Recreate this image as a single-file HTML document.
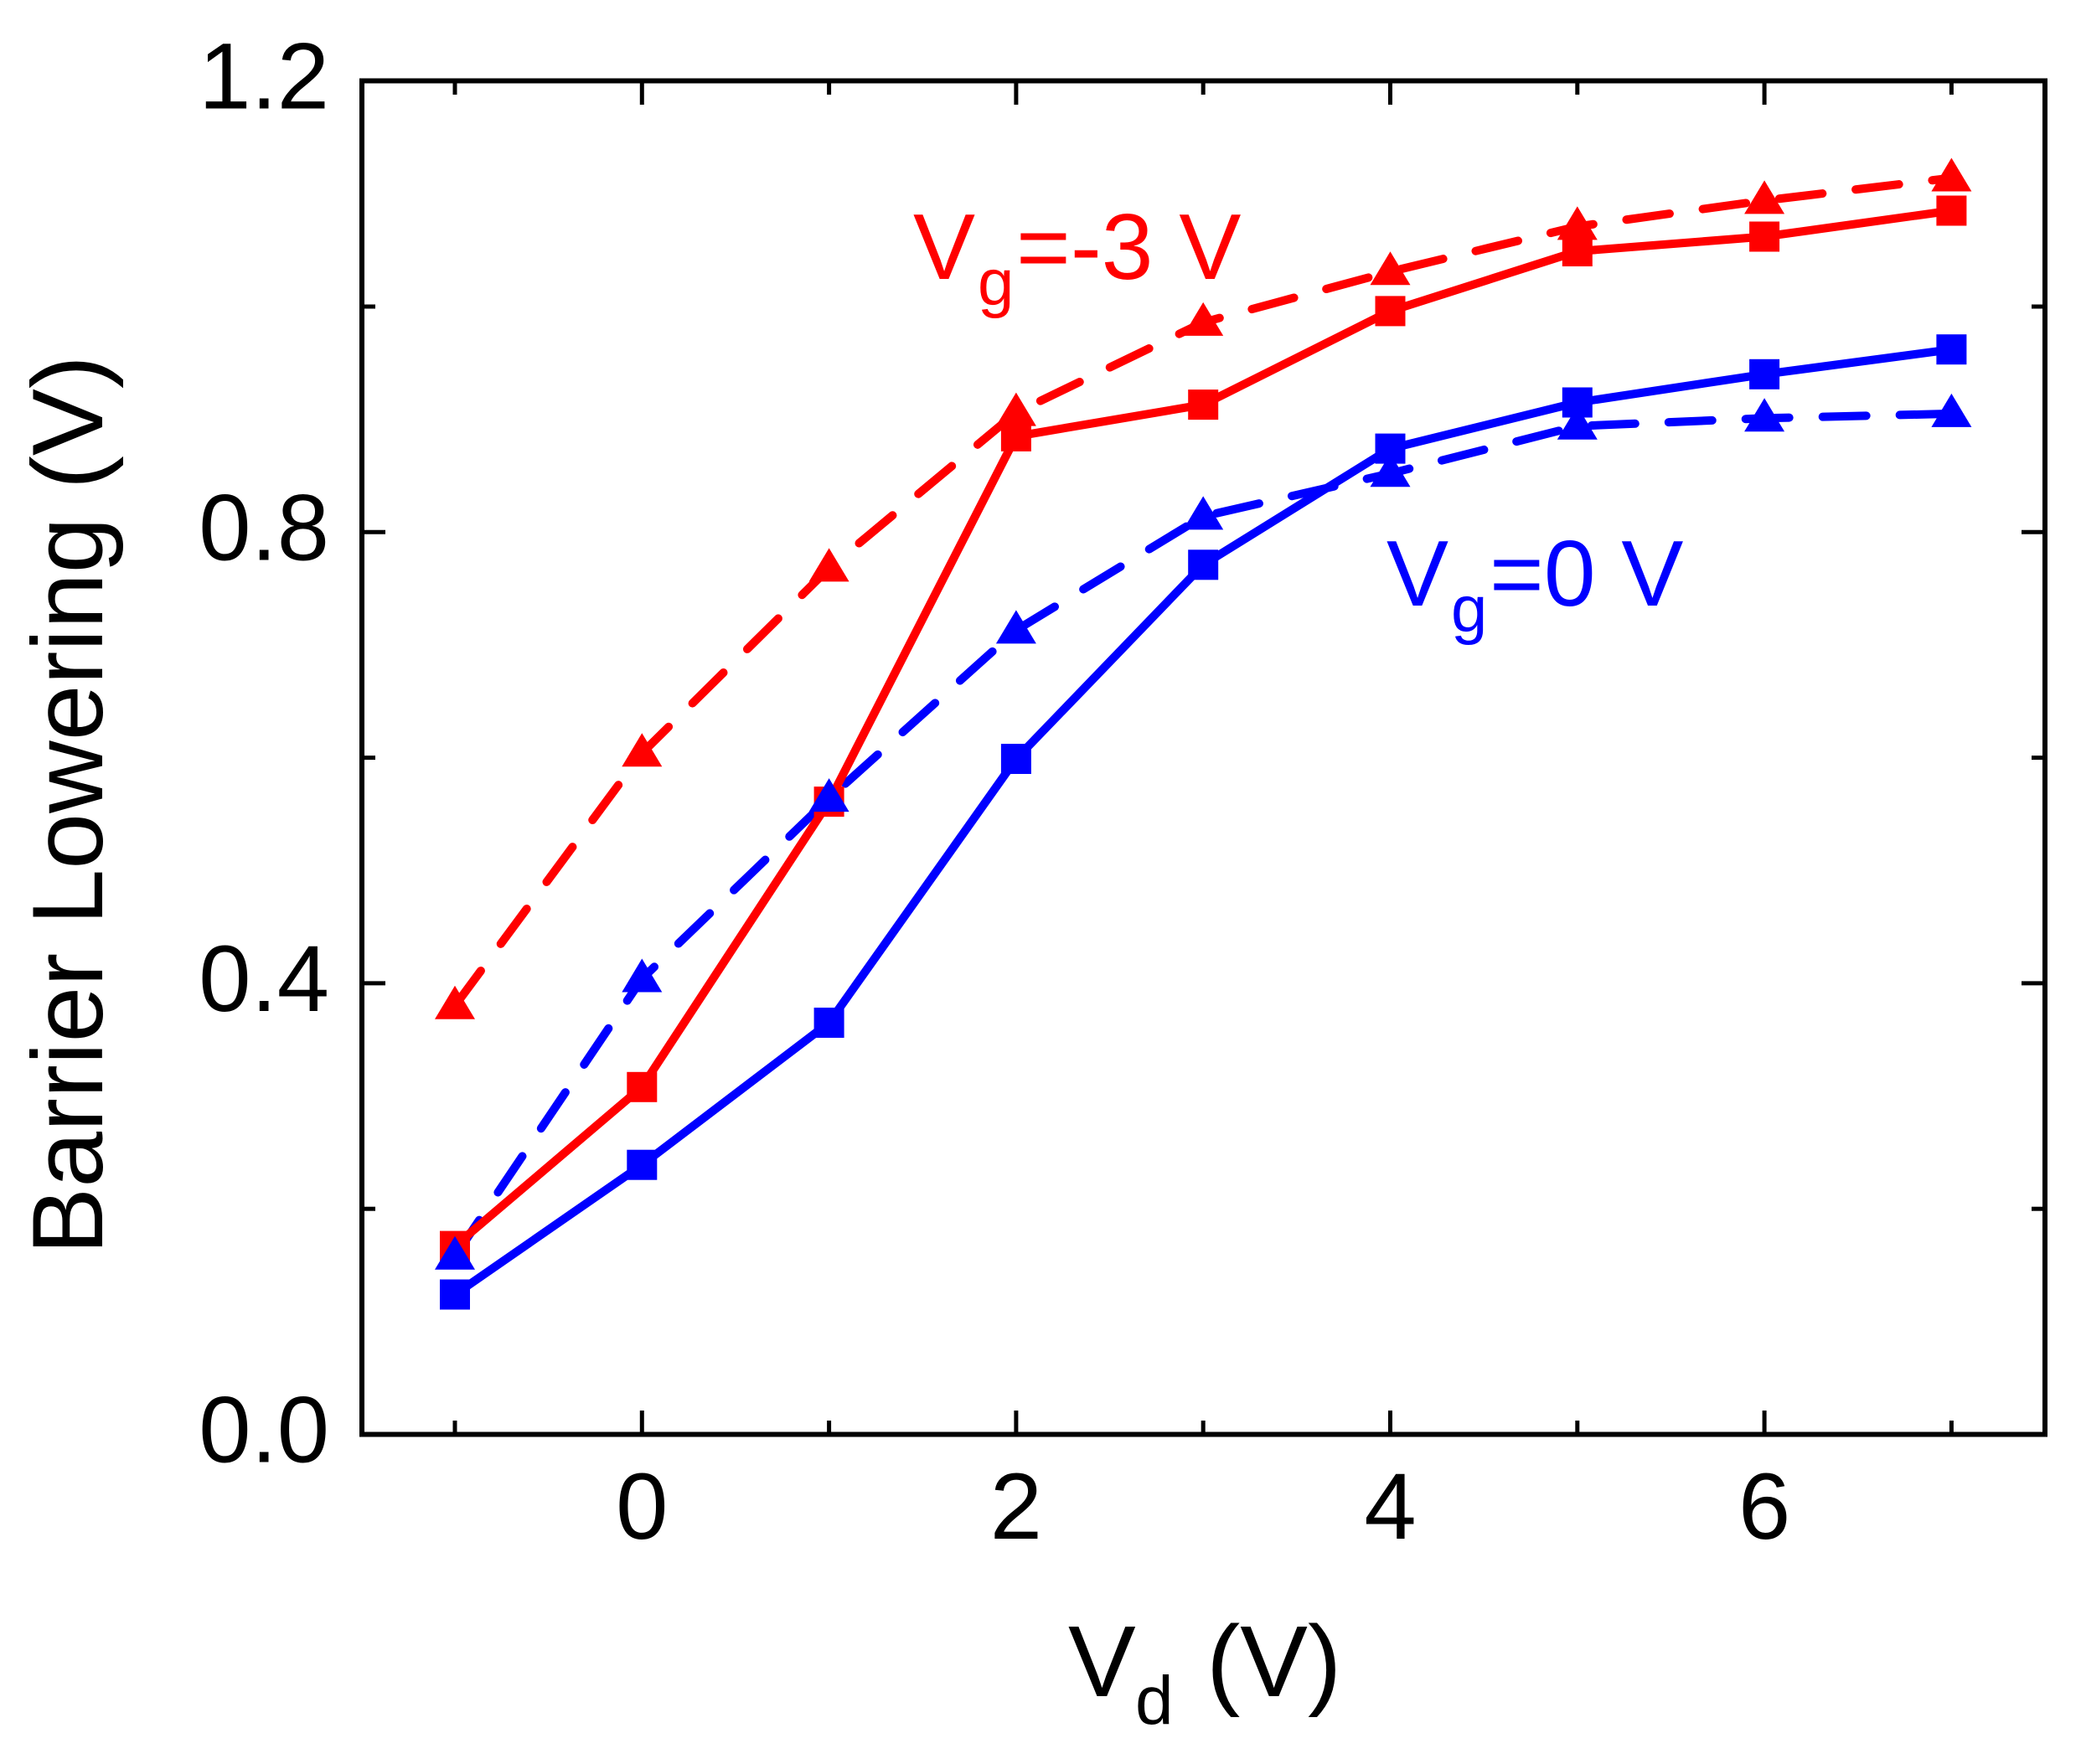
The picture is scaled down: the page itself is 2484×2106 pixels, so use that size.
<!DOCTYPE html>
<html><head><meta charset="utf-8"><style>html,body{margin:0;padding:0;background:#fff}</style></head>
<body>
<svg xmlns="http://www.w3.org/2000/svg" width="2484" height="2101" viewBox="0 0 2484 2101" font-family="Liberation Sans, sans-serif">
<defs>
<rect id="sq" x="-18" y="-18" width="36" height="36"/>
<polygon id="tr" points="-24,16 24,16 0,-24"/>
</defs>
<rect width="2484" height="2101" fill="#fff"/>
<g fill="none" stroke-width="10" stroke-linecap="round" stroke-linejoin="round">
<polyline stroke="#f00" stroke-dasharray="52 40" points="543,1200.8 766.3,899.2 989.6,678.4 1212.9,492.6 1436.2,384.9 1659.5,324.3 1882.8,270.4 2106.1,239.4 2329.4,212.5"/>
<polyline stroke="#00f" stroke-dasharray="52 40" points="543,1499.8 766.3,1168.5 989.6,953.1 1212.9,752.4 1436.2,616.4 1659.5,565.3 1882.8,508.7 2106.1,499.3 2329.4,493.9"/>
<polyline stroke="#f00" points="543,1487.6 766.3,1297.8 989.6,957.1 1212.9,520.9 1436.2,483.1 1659.5,371.4 1882.8,300 2106.1,282.5 2329.4,251.5"/>
<polyline stroke="#00f" points="543,1545.5 766.3,1390.7 989.6,1221 1212.9,906 1436.2,674.3 1659.5,535.6 1882.8,480.5 2106.1,446.8 2329.4,417.2"/>
</g>
<g fill="#f00">
<use href="#tr" x="543" y="1200.8"/><use href="#tr" x="766.3" y="899.2"/><use href="#tr" x="989.6" y="678.4"/><use href="#tr" x="1212.9" y="492.6"/><use href="#tr" x="1436.2" y="384.9"/><use href="#tr" x="1659.5" y="324.3"/><use href="#tr" x="1882.8" y="270.4"/><use href="#tr" x="2106.1" y="239.4"/><use href="#tr" x="2329.4" y="212.5"/>
<use href="#sq" x="543" y="1487.6"/><use href="#sq" x="766.3" y="1297.8"/><use href="#sq" x="989.6" y="957.1"/><use href="#sq" x="1212.9" y="520.9"/><use href="#sq" x="1436.2" y="483.1"/><use href="#sq" x="1659.5" y="371.4"/><use href="#sq" x="1882.8" y="300"/><use href="#sq" x="2106.1" y="282.5"/><use href="#sq" x="2329.4" y="251.5"/>
</g>
<g fill="#00f">
<use href="#sq" x="543" y="1545.5"/><use href="#sq" x="766.3" y="1390.7"/><use href="#sq" x="989.6" y="1221"/><use href="#sq" x="1212.9" y="906"/><use href="#sq" x="1436.2" y="674.3"/><use href="#sq" x="1659.5" y="535.6"/><use href="#sq" x="1882.8" y="480.5"/><use href="#sq" x="2106.1" y="446.8"/><use href="#sq" x="2329.4" y="417.2"/>
<use href="#tr" x="543" y="1499.8"/><use href="#tr" x="766.3" y="1168.5"/><use href="#tr" x="989.6" y="953.1"/><use href="#tr" x="1212.9" y="752.4"/><use href="#tr" x="1436.2" y="616.4"/><use href="#tr" x="1659.5" y="565.3"/><use href="#tr" x="1882.8" y="508.7"/><use href="#tr" x="2106.1" y="499.3"/><use href="#tr" x="2329.4" y="493.9"/>
</g>
<rect x="432" y="96.5" width="2009" height="1616" fill="none" stroke="#000" stroke-width="6"/>
<g stroke="#000" stroke-width="5">
<line x1="543" y1="1712" x2="543" y2="1696"/><line x1="543" y1="97" x2="543" y2="113"/>
<line x1="766.3" y1="1712" x2="766.3" y2="1684"/><line x1="766.3" y1="97" x2="766.3" y2="125"/>
<line x1="989.6" y1="1712" x2="989.6" y2="1696"/><line x1="989.6" y1="97" x2="989.6" y2="113"/>
<line x1="1212.9" y1="1712" x2="1212.9" y2="1684"/><line x1="1212.9" y1="97" x2="1212.9" y2="125"/>
<line x1="1436.2" y1="1712" x2="1436.2" y2="1696"/><line x1="1436.2" y1="97" x2="1436.2" y2="113"/>
<line x1="1659.5" y1="1712" x2="1659.5" y2="1684"/><line x1="1659.5" y1="97" x2="1659.5" y2="125"/>
<line x1="1882.8" y1="1712" x2="1882.8" y2="1696"/><line x1="1882.8" y1="97" x2="1882.8" y2="113"/>
<line x1="2106.1" y1="1712" x2="2106.1" y2="1684"/><line x1="2106.1" y1="97" x2="2106.1" y2="125"/>
<line x1="2329.4" y1="1712" x2="2329.4" y2="1696"/><line x1="2329.4" y1="97" x2="2329.4" y2="113"/>
<line x1="432" y1="1443.2" x2="448" y2="1443.2"/><line x1="2441" y1="1443.2" x2="2425" y2="1443.2"/>
<line x1="432" y1="1173.9" x2="460" y2="1173.9"/><line x1="2441" y1="1173.9" x2="2413" y2="1173.9"/>
<line x1="432" y1="904.6" x2="448" y2="904.6"/><line x1="2441" y1="904.6" x2="2425" y2="904.6"/>
<line x1="432" y1="635.3" x2="460" y2="635.3"/><line x1="2441" y1="635.3" x2="2413" y2="635.3"/>
<line x1="432" y1="366" x2="448" y2="366"/><line x1="2441" y1="366" x2="2425" y2="366"/>
</g>
<g font-size="112" text-anchor="end">
<text x="393" y="1745.5">0.0</text><text x="393" y="1206.9">0.4</text><text x="393" y="668.3">0.8</text><text x="393" y="129.7">1.2</text>
</g>
<g font-size="112" text-anchor="middle">
<text x="766.3" y="1837">0</text><text x="1212.9" y="1837">2</text><text x="1659.5" y="1837">4</text><text x="2106.1" y="1837">6</text>
</g>
<text transform="translate(122,961) rotate(-90)" font-size="120" text-anchor="middle">Barrier Lowering (V)</text>
<text x="1275" y="2025" font-size="121">V</text><text x="1355" y="2058" font-size="82">d</text><text x="1440" y="2025" font-size="121">(V)</text>
<g fill="#f00"><text x="1090" y="333" font-size="111">V</text><text x="1167" y="364" font-size="78">g</text><text x="1213" y="333" font-size="111">=-3 V</text></g>
<g fill="#00f"><text x="1655" y="723" font-size="111">V</text><text x="1732" y="754" font-size="78">g</text><text x="1778" y="723" font-size="111">=0 V</text></g>
</svg>
</body></html>
